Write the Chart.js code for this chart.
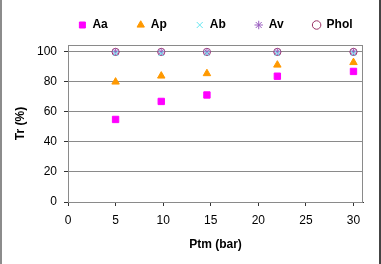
<!DOCTYPE html>
<html>
<head>
<meta charset="utf-8">
<script src="https://cdn.jsdelivr.net/npm/chart.js@4"></script>
<style>
  html, body { margin: 0; padding: 0; background: #fff; }
  #wrap {
    position: relative;
    width: 381px;
    height: 264px;
    box-sizing: border-box;
    border-left: 2px solid #8c8c8c;
    border-right: 2px solid #444;
  }
  canvas { display: block; }
</style>
</head>
<body>
<div id="wrap"><canvas id="chart" width="377" height="264"></canvas></div>
<script>
// Pressure points (bar) and retention (%) per series
const ptm = [5, 9.8, 14.6, 22, 30];
const aa = [55, 67, 71.3, 83.8, 87];
const ap = [80, 84, 85.6, 91.3, 93];
const ab = [99, 99, 99, 99, 99];
const av = [100, 100, 100, 100, 100];
const phol = [100, 100, 100, 100, 100];

const xTicks = [0, 5, 10, 15, 20, 25, 30];
const yTicks = [0, 20, 40, 60, 80, 100];

// Helper to pair x values with a series
function toPoints(values) {
  return values.map((v, i) => ({ x: ptm[i], y: v }));
}

// Draws the grey frame round the plot area
const plotFrame = {
  id: "plotFrame",
  beforeDatasetsDraw(chart) {
    const a = chart.chartArea;
    const ctx = chart.ctx;
    ctx.save();
    ctx.strokeStyle = "#8a8a8a";
    ctx.lineWidth = 1;
    ctx.strokeRect(a.left + 0.5, a.top + 0.5, a.right - a.left - 1, a.bottom - a.top);
    ctx.restore();
  }
};

// Moves the legend up and centres it over the plot area
const legendPlace = {
  id: "legendPlace",
  afterLayout(chart) {
    const lg = chart.legend;
    const a = chart.chartArea;
    if (!lg) return;
    const pad = lg.options.labels.padding;
    const half = lg.options.labels.font.size / 2;
    const top = 25 - half - pad;
    lg.bottom = top + lg.height;
    lg.top = top;
    const dx = (a.left + a.right - lg.left - lg.right) / 2;
    lg.left += dx;
    lg.right += dx;
  }
};

const font = { family: "'Liberation Sans', Arial, sans-serif", size: 12 };
const boldFont = { family: "'Liberation Sans', Arial, sans-serif", size: 12, weight: "bold" };

function series(label, values, style, color, fill, radius) {
  return {
    label: label,
    data: toPoints(values),
    pointStyle: style,
    pointRadius: radius,
    pointHoverRadius: radius,
    backgroundColor: fill,
    borderColor: color,
    borderWidth: 1,
    showLine: false
  };
}

new Chart(document.getElementById("chart"), {
  type: "scatter",
  data: {
    datasets: [
      series("Aa", aa, "rect", "#ff00ff", "#ff00ff", 4.5),
      series("Ap", ap, "triangle", "#ff9900", "#ff9900", 4.3),
      series("Ab", ab, "crossRot", "#66e6f0", "#66e6f0", 3.8),
      series("Av", av, "star", "#9a5fc0", "#9a5fc0", 3.8),
      series("Phol", phol, "circle", "#993366", "rgba(0,0,0,0)", 3.6)
    ]
  },
  options: {
    responsive: false,
    animation: false,
    events: [],
    layout: { padding: { left: 7, right: 16, top: 0, bottom: 8 } },
    plugins: {
      tooltip: { enabled: false },
      legend: {
        position: "top",
        maxHeight: 45,
        labels: {
          usePointStyle: true,
          boxWidth: 8,
          boxHeight: 6,
          padding: 29,
          color: "#000",
          font: boldFont
        }
      }
    },
    scales: {
      x: {
        type: "linear",
        min: 0,
        max: 31,
        afterFit(scale) { scale.height = 54; },
        afterBuildTicks(scale) { scale.ticks = xTicks.map(v => ({ value: v })); },
        ticks: { color: "#000", font: font, padding: 7, maxRotation: 0 },
        grid: { drawOnChartArea: false, tickLength: 4, tickColor: "#333" },
        border: { color: "#333", width: 1 },
        title: { display: true, text: "Ptm (bar)", color: "#000", font: boldFont, padding: { top: 4, bottom: 4 } }
      },
      y: {
        min: 0,
        max: 104.6,
        afterFit(scale) { scale.width = 59; },
        afterBuildTicks(scale) { scale.ticks = yTicks.map(v => ({ value: v })); },
        ticks: { color: "#000", font: font, padding: 7 },
        grid: { color: "#8a8a8a", tickLength: 4, tickColor: "#333" },
        border: { color: "#333", width: 1 },
        title: { display: true, text: "Tr (%)", color: "#000", font: boldFont, padding: { top: 4, bottom: 4 } }
      }
    }
  },
  plugins: [plotFrame, legendPlace]
});
</script>
</body>
</html>
